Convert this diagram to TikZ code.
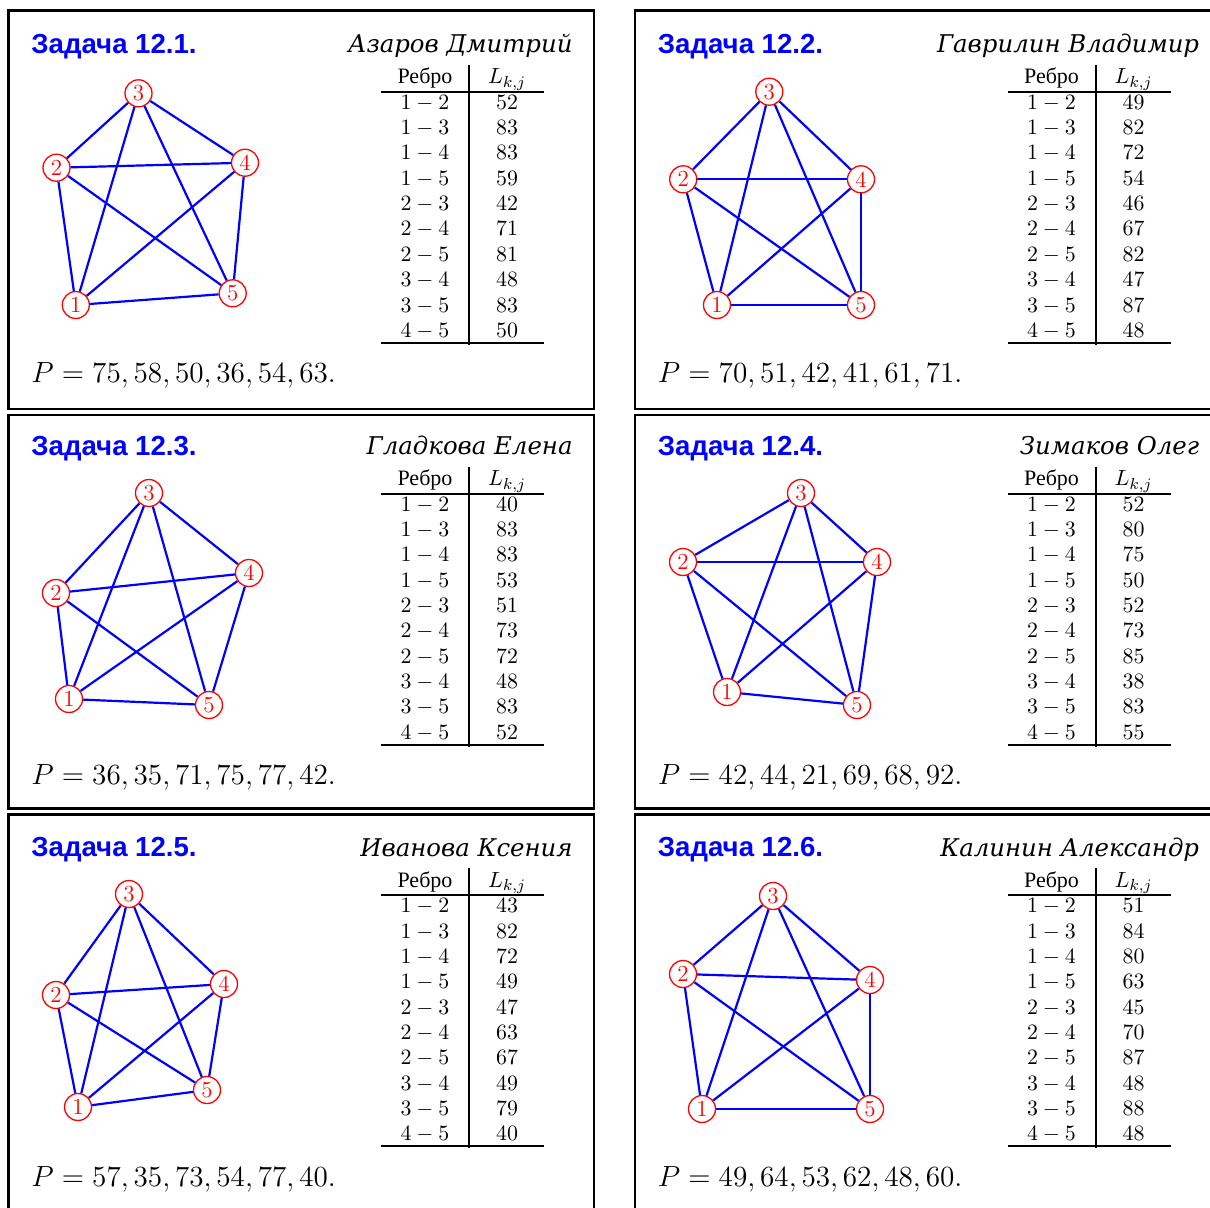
\RequirePackage{fix-cm}
\documentclass[tikz,border=0pt]{standalone}
\usepackage{fontspec}
\newfontfamily\titlefont{Liberation Sans}
\newfontfamily\namefont{DejaVu Serif}
\newfontfamily\cyrfont{Liberation Serif}

\tikzset{
 frame/.style={draw=black, line width=1.35pt},
 ttl/.style={text=blue, font=\titlefont\bfseries\fontsize{13.8}{16}\selectfont, inner sep=0pt},
 nm/.style={font=\namefont\itshape\fontsize{12.2}{14}\selectfont, inner sep=0pt},
 hdr/.style={font=\cyrfont\fontsize{11}{13}\selectfont, inner sep=0pt},
 cell/.style={font=\fontsize{10.95}{13}\selectfont, inner sep=0pt},
 pline/.style={font=\fontsize{14.6}{18}\selectfont, inner sep=0pt},
 vtx/.style={circle, draw=red, text=red, line width=0.65pt, inner sep=0pt, minimum size=13.5pt, font=\fontsize{11.5}{13}\selectfont},
 edge/.style={draw=blue, line width=1.1pt},
 rulel/.style={draw=black, line width=1pt},
}

% #1,#2 content origin; #3 number; #4 name; #5 values; #6 P; #7 frame top; #8 frame bottom
\newcommand{\mypanel}[8]{%
\begin{scope}[shift={(#1,#2)}]
 \draw[frame] (0,#7) rectangle (585.5,#8);
 \node[ttl, anchor=base west] (t#3) at (22.5,42.5) {Задача 12.#3.};
 \node[nm, anchor=base east] (n#3) at (564.5,42) {#4};
 \node[hdr, anchor=base] (ha#3) at (416.5,73) {Ребро};
 \node[cell, anchor=base] (hb#3) at (498.5,73) {$L_{k,j}$};
 \draw[rulel] (372.5,81) -- (535.5,81);
 \draw[rulel] (372.5,332) -- (535.5,332);
 \draw[rulel] (460.5,54) -- (460.5,334);
 \foreach \a/\b [count=\i from 0] in {1/2,1/3,1/4,1/5,2/3,2/4,2/5,3/4,3/5,4/5}
   \node[cell, anchor=base] (e#3-\i) at (416.5,{98.5+25.35*\i}) {$\a-\b$};
 \foreach \v [count=\i from 0] in {#5}
   \node[cell, anchor=base] (w#3-\i) at (498.5,{98.5+25.35*\i}) {$\v$};
 \node[pline, anchor=base west] (p#3) at (22.5,372) {$P=#6.$};
\end{scope}}

\newcommand{\mygraph}[6]{%
 \node[vtx] (#1-1) at (#2) {1};
 \node[vtx] (#1-2) at (#3) {2};
 \node[vtx] (#1-3) at (#4) {3};
 \node[vtx] (#1-4) at (#5) {4};
 \node[vtx] (#1-5) at (#6) {5};
 \foreach \u/\w in {1/2,1/3,1/4,1/5,2/3,2/4,2/5,3/4,3/5,4/5}
   \draw[edge] (#1-\u) -- (#1-\w);
}

\begin{document}
\begin{tikzpicture}[x=0.5pt,y=-0.5pt]
\useasboundingbox (0,0) rectangle (1210,1207);
\clip (0,0) rectangle (1210,1207);
\fill[white] (0,0) rectangle (1210,1207);

\mypanel{8.5}{10.7}{1}{Азаров Дмитрий}{52,83,83,59,42,71,81,48,83,50}{75,58,50,36,54,63}{0}{398.3}
\mypanel{635}{10.7}{2}{Гаврилин Владимир}{49,82,72,54,46,67,82,47,87,48}{70,51,42,41,61,71}{0}{398.3}
\mypanel{8.5}{412.5}{3}{Гладкова Елена}{40,83,83,53,51,73,72,48,83,52}{36,35,71,75,77,42}{2.5}{396.3}
\mypanel{635}{412.5}{4}{Зимаков Олег}{52,80,75,50,52,73,85,38,83,55}{42,44,21,69,68,92}{2.5}{395.8}
\mypanel{8.5}{814.3}{5}{Иванова Ксения}{43,82,72,49,47,63,67,49,79,40}{57,35,73,54,77,40}{0}{400}
\mypanel{635}{814.3}{6}{Калинин Александр}{51,84,80,63,45,70,87,48,88,48}{49,64,53,62,48,60}{0}{400}

\mygraph{ga}{75.8,305}{56.5,167.7}{138.5,93.3}{245,162.7}{232.7,293.3}
\mygraph{gb}{717,305}{683.2,179.3}{769.3,91.7}{861,179.3}{861,305}
\mygraph{gc}{69,699}{56,593}{149,493}{249,573}{209,705}
\mygraph{gd}{727,692}{683,562}{801,493}{877,562}{857,705}
\mygraph{ge}{78,1107}{56,995}{129,894}{224,984}{207,1090}
\mygraph{gf}{702,1109}{683,974}{773,896}{870,980}{870,1109}
\end{tikzpicture}
\end{document}
